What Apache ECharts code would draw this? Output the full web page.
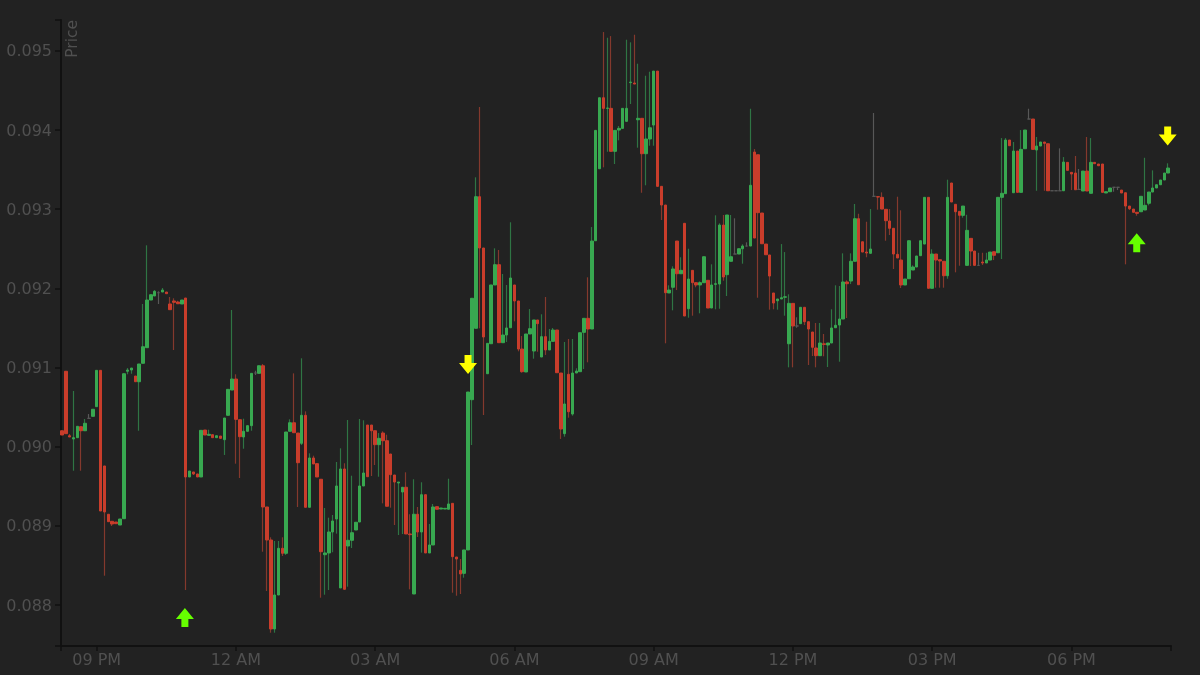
<!DOCTYPE html>
<html><head><meta charset="utf-8"><style>html,body{margin:0;padding:0;background:#222}#c{width:1200px;height:675px}</style>
<script src="https://cdn.jsdelivr.net/npm/echarts@6/dist/echarts.min.js"></script></head>
<body><div id="c"></div><script>
const opens=[
.090201,.090952,.090138,.090097,.090113,.090252,.090201,.090358,.090383,.090505,
.090964,.089756,.089146,.089057,.089048,.08901,.08909,.090952,.090968,.090892,
.09082,.091053,.09125,.091852,.091903,.091944,.091953,.091953,.091802,.09184,
.091827,.091802,.091877,.089617,.08968,.089655,.089617,.09021,.090143,.090151,
.090113,.090134,.090088,.090396,.090715,.090854,.09034,.090122,.090194,.090265,
.09093,.090926,.091022,.089238,.088821,.087697,.088126,.088716,.088653,.090194,
.090302,.090172,.090042,.090396,.089234,.089857,.089785,.089588,.088635,.088657,
.088922,.089086,.088215,.089718,.088745,.088817,.088947,.089048,.089503,.090273,
.090273,.090201,.090025,.090172,.090075,.089907,.089642,.089541,.089427,.089487,
.088897,.088139,.089146,.088922,.089393,.088657,.088758,.089242,.089212,.089212,
.089209,.089284,.088606,.088438,.0884,.088695,.090593,.091495,.093157,.092509,
.090921,.0913,.092042,.092298,.091313,.09141,.091502,.092042,.09184,.091233,
.090943,.091423,.091208,.0916,.091132,.091389,.091221,.09133,.091473,.09093,
.090164,.090914,.090412,.09093,.090947,.091444,.091621,.091486,.092601,.09351,
.094407,.094273,.094273,.09373,.093999,.09402,.094109,.094598,.094593,.094129,
.094147,.0937,.093886,.094062,.094744,.093288,.093052,.091941,.092013,.092597,
.092184,.092821,.091742,.092227,.092071,.092042,.092071,.092101,.091751,.09205,
.092054,.092799,.092172,.092341,.092433,.092433,.0925,.092534,.092534,.093721,
.093687,.092951,.092559,.092421,.091941,.091843,.091865,.091887,.0913,.09181,
.091524,.091553,.09176,.091578,.091448,.091246,.091149,.091299,.091284,.091309,
.091502,.091536,.091612,.09208,.092092,.092341,.092879,.092588,.092458,.092442,
.093162,.093157,.093149,.092998,.09285,.092758,.092429,.092357,.092042,.092121,
.092231,.092269,.092412,.092559,.093149,.092,.092433,.092361,.092341,.092159,
.09333,.093061,.092972,.092922,.09229,.092631,.092471,.09229,.092332,.09232,
.092357,.092462,.092449,.093149,.093195,.093873,.093207,.093734,.093212,.093763,
.094138,.094138,.093747,.093797,.093848,.093826,.093232,.093232,.093232,.093232,
.093591,.093465,.093456,.09325,.093229,.093481,.0932,.093591,.09357,.09357,
.093204,.09322,.093276,.093276,.093241,.093207,.093039,.093001,.09296,.092967,
.092989,.093074,.093216,.093267,.093308,.093368,.093456];
const closes=[
.090147,.090164,.090122,.090113,.090257,.090201,.090295,.090358,.090472,.090964,
.089187,.089175,.089052,.089023,.089027,.089086,.090921,.090968,.090993,.09082,
.091044,.091262,.091852,.091919,.091962,.091944,.091978,.091932,.09173,.091823,
.091805,.091852,.089617,.089692,.089655,.089617,.090206,.090147,.090156,.090113,
.090138,.090105,.090362,.090724,.090854,.090345,.090126,.090194,.090265,.090926,
.09093,.091022,.089238,.088821,.087697,.088126,.088716,.088653,.090185,.090302,
.090176,.089797,.090396,.089234,.089857,.089781,.089617,.088673,.088657,.088922,
.089061,.089503,.089718,.088198,.088817,.088913,.089045,.089503,.089667,.08962,
.090201,.090025,.090105,.090075,.089247,.089646,.089553,.089553,.089487,.088897,
.088888,.089146,.088922,.089393,.088657,.088758,.089238,.089209,.089225,.089221,
.089276,.08861,.088581,.088392,.088695,.09069,.091874,.093157,.092509,.091385,
.091305,.092042,.092298,.091313,.09141,.091499,.09213,.09184,.091233,.090947,
.091423,.09149,.0916,.091553,.091389,.091221,.09133,.091473,.090934,.090223,
.090539,.090441,.09093,.090955,.091439,.091621,.091486,.092597,.093995,.094407,
.094273,.094277,.09373,.093995,.09402,.094273,.094273,.094605,.09458,.094147,
.0937,.093886,.094028,.094744,.093288,.093052,.091944,.091978,.092244,.092184,
.092227,.09165,.092117,.092071,.092042,.092071,.092399,.091751,.092042,.092058,
.092799,.092143,.092926,.092399,.092433,.0925,.092534,.092534,.093301,.092635,
.092955,.092563,.092424,.092155,.091814,.091865,.091881,.091893,.09181,.091524,
.091524,.09176,.091578,.091486,.091255,.091149,.091309,.091291,.091309,.091499,
.091533,.091612,.09208,.092058,.092341,.092879,.092045,.092458,.092446,.092496,
.093162,.093153,.093001,.092854,.092758,.092433,.092383,.092042,.092117,.092601,
.092269,.092408,.092601,.093149,.092,.092433,.092357,.092345,.092159,.093149,
.09309,.092967,.092922,.093039,.092732,.092471,.09229,.09229,.09232,.092357,
.092458,.092417,.093149,.0932,.093873,.093801,.093734,.093212,.093755,.093999,
.094138,.093755,.093797,.093848,.093831,.093232,.093232,.093232,.093232,.093595,
.09349,.093444,.093245,.09325,.093481,.093229,.093591,.093574,.093548,.093212,
.09322,.093267,.093276,.093276,.093204,.093039,.093005,.09296,.092947,.093162,
.093048,.093216,.093267,.093308,.093368,.093456,.093519];
const lows=[
.090147,.090164,.090122,.089696,.090113,.089696,.090201,.090358,.090383,.090505,
.089187,.08837,.089052,.088998,.089027,.08901,.08909,.090914,.090921,.09082,
.090201,.091053,.09125,.091852,.091903,.091802,.091953,.091932,.09173,.091221,
.091805,.091802,.088189,.089617,.089642,.089617,.089617,.090147,.090143,.090113,
.090113,.090105,.089895,.090396,.090715,.089785,.089604,.089974,.090194,.090201,
.090905,.090926,.088673,.088177,.08765,.08765,.088126,.088619,.088632,.090194,
.090176,.089238,.090021,.089234,.089234,.089781,.089617,.088092,.08813,.088189,
.088666,.088901,.088215,.088198,.088231,.08872,.088947,.089048,.089503,.08962,
.089629,.089768,.08962,.089284,.089247,.089229,.08901,.088884,.088897,.088897,
.088198,.088139,.088859,.088661,.088657,.088657,.088758,.089209,.089212,.089212,
.089209,.088155,.088117,.088139,.088345,.088695,.090021,.091495,.091495,.0904,
.090921,.0913,.092042,.091313,.091313,.091322,.091502,.091583,.091204,.090934,
.090943,.091423,.091111,.091199,.091132,.091158,.091221,.09133,.090934,.090097,
.090126,.090366,.090391,.09093,.090947,.090981,.091065,.091486,.092601,.09351,
.093528,.093725,.09373,.09357,.093869,.09402,.094109,.094328,.09458,.093776,
.093207,.093301,.093801,.093801,.093288,.092863,.091305,.091941,.091722,.091978,
.092184,.09165,.091629,.091654,.092013,.091684,.092071,.091751,.091751,.091735,
.091742,.092096,.091903,.092341,.092433,.092433,.092311,.092534,.092534,.092635,
.091881,.092563,.092424,.09173,.091735,.09173,.091865,.091654,.091002,.091002,
.091502,.091553,.091536,.091031,.091145,.091002,.091149,.091141,.091006,.091309,
.091502,.091073,.091612,.091625,.092054,.092341,.092045,.092458,.092392,.092442,
.093162,.092993,.093001,.092601,.092673,.092244,.092383,.092004,.092042,.092121,
.092231,.092269,.092412,.092559,.092,.092,.092008,.092008,.092008,.092121,
.09309,.092202,.092285,.092892,.09229,.092282,.09229,.09229,.092294,.09232,
.092357,.092357,.092449,.09237,.093195,.093801,.093207,.093212,.093212,.093763,
.094138,.093755,.093232,.093797,.093232,.093232,.093232,.093232,.093232,.093232,
.09349,.093241,.093245,.09325,.093229,.093229,.0932,.093574,.093548,.093212,
.093204,.09322,.09322,.093241,.093204,.092303,.092989,.09296,.092917,.092967,
.092989,.093048,.093216,.093267,.093308,.093368,.093456];
const highs=[
.090201,.090952,.09016,.090703,.090257,.090252,.090349,.090412,.090472,.090964,
.090964,.089756,.089146,.089057,.089048,.089086,.090921,.090993,.090993,.090892,
.091044,.091802,.092543,.091919,.091978,.091962,.092004,.091953,.09189,.091874,
.091843,.091852,.091877,.089692,.08968,.089655,.090206,.09021,.090214,.090151,
.090138,.090134,.090362,.090724,.091726,.090914,.09034,.090353,.090265,.090926,
.090959,.091022,.091044,.089238,.088855,.088808,.088808,.088855,.090185,.090345,
.090926,.090172,.091116,.090446,.089916,.089886,.089785,.089588,.089225,.089103,
.089137,.089806,.089979,.08979,.090337,.089633,.089045,.090349,.090333,.090273,
.090273,.090201,.090172,.090194,.090151,.089907,.089642,.089553,.089487,.089676,
.089146,.089588,.089238,.08955,.089393,.089023,.089276,.089242,.089225,.089221,
.089595,.089284,.088606,.088581,.088695,.09069,.091874,.093402,.09429,.092509,
.091305,.092042,.092505,.092484,.092181,.092042,.092834,.092042,.09184,.091397,
.091423,.091738,.0916,.0916,.091672,.09189,.091486,.091499,.091473,.09093,
.091322,.09136,.09136,.09099,.091439,.091621,.092139,.092774,.093995,.094407,
.095237,.095165,.095186,.093995,.09405,.094273,.09514,.095107,.095203,.094837,
.094147,.094685,.094736,.094744,.094744,.093288,.093052,.092038,.092278,.092597,
.092392,.092821,.0925,.092227,.092071,.092088,.092399,.092101,.092303,.092922,
.092821,.092926,.092926,.092926,.092884,.0925,.092556,.092581,.094268,.093759,
.093687,.092951,.092559,.092421,.091941,.091865,.092559,.092458,.091924,.09181,
.091634,.09176,.09176,.091578,.091448,.091562,.091562,.091423,.091309,.091735,
.092038,.092029,.092442,.092101,.092442,.093065,.092942,.092588,.092841,.093001,
.094214,.093157,.093212,.092998,.093001,.092758,.093157,.092985,.092117,.092601,
.09229,.092408,.092601,.093149,.093149,.092493,.092433,.092361,.092341,.093372,
.09333,.093061,.092972,.093039,.092929,.092631,.092471,.092449,.092449,.092449,
.092458,.092462,.093149,.093898,.093898,.093873,.093848,.093734,.093999,.093999,
.094268,.094138,.093911,.093848,.093848,.093826,.093232,.093232,.093768,.093658,
.093591,.093465,.093671,.093507,.093481,.093911,.093898,.093591,.09357,.09357,
.09322,.093267,.093276,.093276,.093241,.093207,.093039,.093001,.09296,.093162,
.093649,.093216,.09349,.093308,.093368,.093456,.093579];
const barMinutes=5;
const priceTicks=[.088,.089,.09,.091,.092,.093,.094,.095];
const timeTickMinutes=[45,225,405,585,765,945,1125,1305];
const timeTickLabels=['09 PM','12 AM','03 AM','06 AM','09 AM','12 PM','03 PM','06 PM'];
const buySignals=[[159,.087842],[1389.4,.092576]];
const sellSignals=[[525,.091038],[1429.4,.093923]];
const xMin=-1.15,xMax=1433.7,yMin=.087482,yMax=.095389;

const times=opens.map((_,i)=>i*barMinutes);
const wickData=times.map((t,i)=>[t,opens[i],closes[i],lows[i],highs[i]]);
const bodyData=times.map((t,i)=>[t,opens[i],closes[i],Math.min(opens[i],closes[i]),Math.max(opens[i],closes[i])]);
const UP='path://M9 0L18 11L12.5 11L12.5 19L5.5 19L5.5 11L0 11Z';
const DOWN='path://M5.5 0L12.5 0L12.5 8L18 8L9 19L0 8L5.5 8Z';
const axisC='#111111',txtC='#505050',font='"DejaVu Sans"';
const chart=echarts.init(document.getElementById('c'),null,{renderer:'canvas'});
chart.setOption({
 animation:false,backgroundColor:'#222222',
 grid:{left:61,top:20,width:1110,height:626,containLabel:false},
 xAxis:{type:'value',min:xMin,max:xMax,splitLine:{show:false},
  axisLine:{onZero:false,lineStyle:{color:axisC,width:2}},
  axisTick:{customValues:[xMin].concat(timeTickMinutes,[xMax]),length:5,lineStyle:{color:axisC,width:1.5}},
  axisLabel:{customValues:timeTickMinutes,color:txtC,fontFamily:font,fontSize:16,margin:7,
   formatter:v=>timeTickLabels[timeTickMinutes.indexOf(v)]||''}},
 yAxis:{type:'value',min:yMin,max:yMax,splitLine:{show:false},
  name:'Price',nameLocation:'end',nameRotate:90,nameGap:0,
  nameTextStyle:{color:txtC,fontFamily:font,fontSize:15.5,align:'right',verticalAlign:'top',padding:[4,0,0,0]},
  axisLine:{onZero:false,lineStyle:{color:axisC,width:2}},
  axisTick:{customValues:[yMin].concat(priceTicks,[yMax]),length:6,lineStyle:{color:axisC,width:1.5}},
  axisLabel:{customValues:priceTicks,color:txtC,fontFamily:font,fontSize:16,margin:9,
   formatter:v=>'{s|}\n{v|'+v.toFixed(3)+'}',
   rich:{s:{height:3,lineHeight:3,fontSize:1},v:{color:txtC,fontFamily:font,fontSize:16,lineHeight:16}}}},
 series:[
  {type:'candlestick',name:'wick',data:wickData,encode:{x:0,y:[1,2,3,4]},barWidth:1,silent:true,
   itemStyle:{color:'#2f7544',color0:'#84392d',borderColor:'#2f7544',borderColor0:'#84392d',borderColorDoji:'#585858',borderWidth:1.2}},
  {type:'candlestick',name:'body',data:bodyData,encode:{x:0,y:[1,2,3,4]},barWidth:3,silent:true,
   itemStyle:{color:'#38a850',color0:'#c93d2b',borderColor:'#38a850',borderColor0:'#c93d2b',borderColorDoji:'#585858',borderWidth:1}},
  {type:'scatter',name:'buy',data:buySignals,symbol:UP,symbolSize:[18,19],itemStyle:{color:'#66ff00',opacity:1},silent:true,z:5},
  {type:'scatter',name:'sell',data:sellSignals,symbol:DOWN,symbolSize:[18,19],itemStyle:{color:'#ffff00',opacity:1},silent:true,z:5}
 ]});
</script></body></html>
